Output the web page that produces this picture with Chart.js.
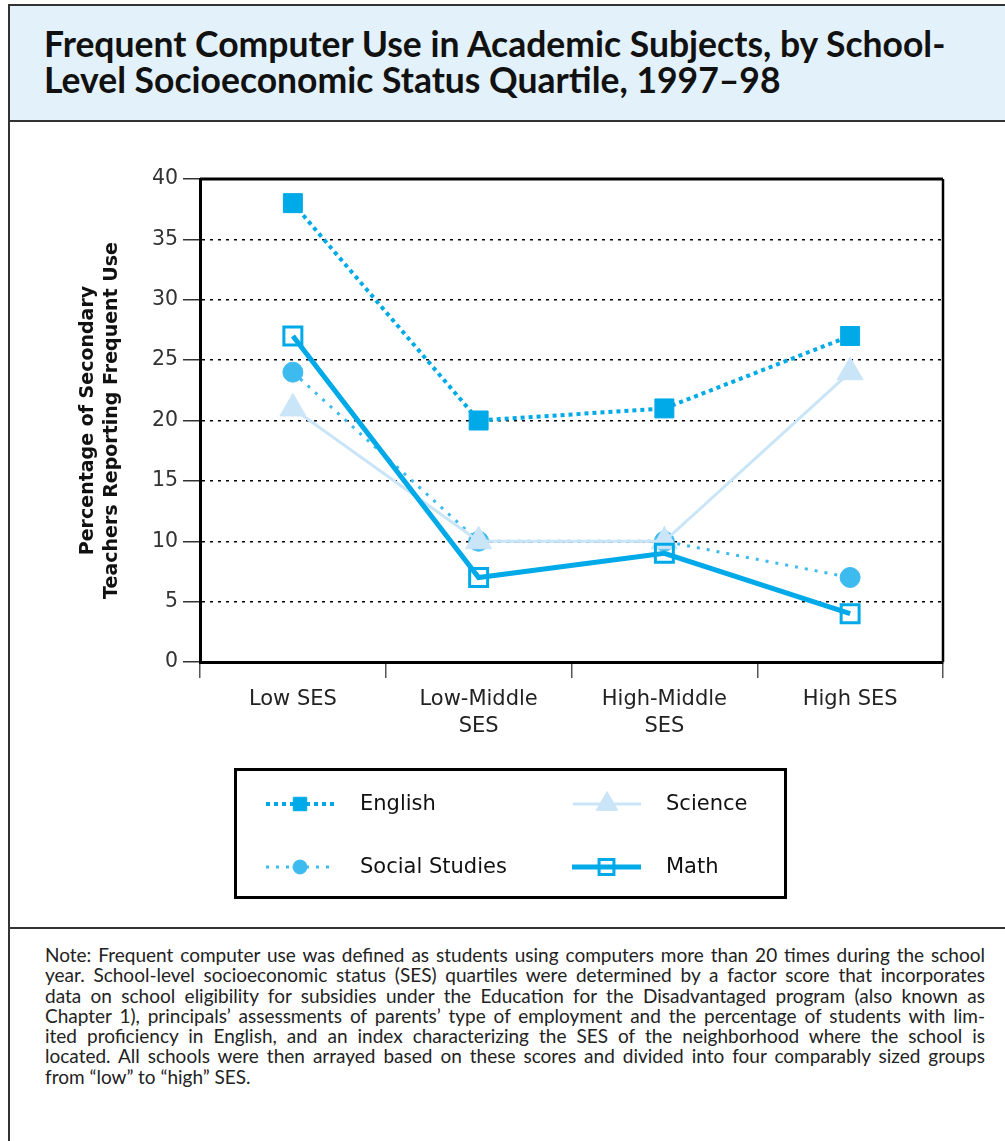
<!DOCTYPE html>
<html>
<head>
<meta charset="utf-8">
<title>Frequent Computer Use in Academic Subjects</title>
<script src="https://cdn.jsdelivr.net/npm/chart.js@4.4.0/dist/chart.umd.min.js"></script>
<style>
  html, body { margin: 0; padding: 0; background: #fff; }
  body { width: 1005px; height: 1141px; position: relative; overflow: hidden; }
  #frame { position: absolute; left: 8px; top: 4px; width: 1010px; height: 1150px;
           border-left: 2px solid #333; border-top: 2px solid #333; }
  #title { position: absolute; left: 10px; top: 6px; width: 995px; height: 114px;
           background: #E3F1FB; border-bottom: 2px solid #333; }
  #title h1 { position: absolute; left: 34px; top: 20px; margin: 0;
              font: 700 35.5px Lato, sans-serif; line-height: 36px; color: #111; }
  #chartBox { position: absolute; left: 10px; top: 123px; width: 995px; height: 803px; }
  #sep { position: absolute; left: 10px; top: 927px; width: 995px; border-top: 2px solid #333; }
  #note { position: absolute; left: 45px; top: 945px; width: 940px;
          font: 400 19px Lato, sans-serif; line-height: 20.3px; color: #222; }
  #note div { text-align: justify; text-align-last: justify; white-space: nowrap; }
  #note div.last { text-align-last: left; }
</style>
</head>
<body>
<div id="frame"></div>
<div id="title"><h1>Frequent Computer Use in Academic Subjects, by School-<br>Level Socioeconomic Status Quartile, 1997–98</h1></div>
<div id="chartBox"><canvas id="chart"></canvas></div>
<div id="sep"></div>
<div id="note">
  <div>Note: Frequent computer use was defined as students using computers more than 20 times during the school</div>
  <div>year. School-level socioeconomic status (SES) quartiles were determined by a factor score that incorporates</div>
  <div>data on school eligibility for subsidies under the Education for the Disadvantaged program (also known as</div>
  <div>Chapter 1), principals’ assessments of parents’ type of employment and the percentage of students with lim-</div>
  <div>ited proficiency in English, and an index characterizing the SES of the neighborhood where the school is</div>
  <div>located. All schools were then arrayed based on these scores and divided into four comparably sized groups</div>
  <div class="last">from “low” to “high” SES.</div>
</div>

<script>
// categories (x axis) and values
const categories = ["Low SES", ["Low-Middle", "SES"], ["High-Middle", "SES"], "High SES"];
const english = [38, 20, 21, 27];
const science = [21, 10, 10, 24];
const socialStudies = [24, 10, 10, 7];
const math = [27, 7, 9, 4];
const yMin = 0, yMax = 40, yStep = 5;

const BLUE = "#00A9E8";
const MID_BLUE = "#3EBBEE";
const PALE_BLUE = "#C9E5F7";
const chartFont = "'DejaVu Sans', sans-serif";

// frame lines on top and right of the plot
const plotFrame = {
  id: "plotFrame",
  beforeDatasetsDraw(chart) {
    const { ctx, chartArea: a } = chart;
    ctx.save();
    ctx.strokeStyle = "#000";
    ctx.lineWidth = 3;
    ctx.beginPath();
    ctx.moveTo(a.left, a.top);
    ctx.lineTo(a.right, a.top);
    ctx.stroke();
    ctx.lineWidth = 2.5;
    ctx.beginPath();
    ctx.moveTo(a.right, a.top);
    ctx.lineTo(a.right, a.bottom);
    ctx.stroke();
    ctx.restore();
  }
};

// boxed legend below the x axis, two columns
const boxLegend = {
  id: "boxLegend",
  afterDraw(chart) {
    const ctx = chart.ctx;
    const sets = chart.data.datasets;
    ctx.save();
    ctx.strokeStyle = "#000";
    ctx.lineWidth = 3;
    ctx.strokeRect(225.5, 646.5, 550, 128);

    const items = [
      { i: 0, x1: 256, x2: 324, y: 681, tx: 350, r: 9.5 },
      { i: 2, x1: 563, x2: 631, y: 681, tx: 656, r: 12.5 },
      { i: 3, x1: 256, x2: 324, y: 744, tx: 350, r: 7 },
      { i: 1, x1: 562, x2: 631, y: 744, tx: 656, r: 10.5 }
    ];
    items.forEach(it => {
      const ds = sets[it.i];
      ctx.save();
      ctx.strokeStyle = ds.borderColor;
      ctx.lineWidth = ds.borderWidth;
      ctx.lineCap = "butt";
      ctx.setLineDash(ds.borderDash || []);
      ctx.beginPath();
      ctx.moveTo(it.x1, it.y);
      ctx.lineTo(it.x2, it.y);
      ctx.stroke();
      ctx.setLineDash([]);
      ctx.fillStyle = ds.pointBackgroundColor;
      ctx.strokeStyle = ds.pointBorderColor;
      ctx.lineWidth = ds.pointBorderWidth;
      Chart.helpers.drawPoint(ctx, {
        pointStyle: ds.pointStyle, radius: it.r, rotation: 0, borderWidth: ds.pointBorderWidth
      }, (it.x1 + it.x2) / 2, it.y);
      ctx.restore();

      ctx.fillStyle = "#111";
      ctx.font = "21px " + chartFont;
      ctx.textBaseline = "middle";
      ctx.textAlign = "left";
      ctx.fillText(ds.label, it.tx, it.y + 1);
    });
    ctx.restore();
  }
};

new Chart(document.getElementById("chart"), {
  type: "line",
  data: {
    labels: categories,
    datasets: [
      {
        label: "English",
        data: english,
        borderColor: BLUE,
        borderWidth: 4,
        borderDash: [4, 4],
        borderCapStyle: "butt",
        pointStyle: "rect",
        pointRadius: 13.4,
        pointBackgroundColor: BLUE,
        pointBorderColor: BLUE,
        pointBorderWidth: 1,
        order: 0
      },
      {
        label: "Math",
        data: math,
        borderColor: BLUE,
        borderWidth: 5,
        borderCapStyle: "butt",
        pointStyle: "rect",
        pointRadius: 12.7,
        pointBackgroundColor: "rgba(0,0,0,0)",
        pointBorderColor: BLUE,
        pointBorderWidth: 3,
        order: 1
      },
      {
        label: "Science",
        data: science,
        borderColor: PALE_BLUE,
        borderWidth: 3,
        pointStyle: "triangle",
        pointRadius: 15,
        pointBackgroundColor: PALE_BLUE,
        pointBorderColor: PALE_BLUE,
        pointBorderWidth: 1,
        order: 2
      },
      {
        label: "Social Studies",
        data: socialStudies,
        borderColor: MID_BLUE,
        borderWidth: 3,
        borderDash: [3, 7],
        borderCapStyle: "butt",
        pointStyle: "circle",
        pointRadius: 10,
        pointBackgroundColor: MID_BLUE,
        pointBorderColor: MID_BLUE,
        pointBorderWidth: 1,
        order: 3
      }
    ]
  },
  options: {
    responsive: true,
    maintainAspectRatio: false,
    animation: false,
    events: [],
    clip: false,
    elements: { line: { tension: 0, fill: false } },
    layout: { padding: { left: 0, top: 56, right: 62, bottom: 164 } },
    plugins: {
      legend: { display: false },
      tooltip: { enabled: false }
    },
    scales: {
      x: {
        offset: true,
        afterFit: s => { s.height = 100; },
        grid: {
          offset: true,
          drawOnChartArea: false,
          drawTicks: true,
          tickLength: 16,
          color: "#555",
          lineWidth: 1.5
        },
        border: { display: true, color: "#000", width: 3 },
        ticks: {
          color: "#222",
          padding: 8,
          maxRotation: 0,
          autoSkip: false,
          font: { family: chartFont, size: 21, lineHeight: 1.3 }
        }
      },
      y: {
        min: yMin,
        max: yMax,
        afterFit: s => { s.width = 190; },
        grid: {
          color: c => (c.tick && (c.tick.value === yMin || c.tick.value === yMax)) ? "rgba(0,0,0,0)" : "#000",
          lineWidth: 1.5,
          drawTicks: true,
          tickLength: 17,
          tickColor: "#333",
          tickWidth: 1.5
        },
        border: { display: true, color: "#000", width: 3, dash: [3, 5] },
        ticks: {
          stepSize: yStep,
          color: "#333",
          padding: 5,
          font: { family: chartFont, size: 20.5 }
        },
        title: {
          display: true,
          text: ["Percentage of Secondary", "Teachers Reporting Frequent Use"],
          color: "#111",
          padding: { top: 66, bottom: 0 },
          font: { family: chartFont, size: 19, weight: "bold", lineHeight: 1.25 }
        }
      }
    }
  },
  plugins: [plotFrame, boxLegend]
});
</script>
</body>
</html>
